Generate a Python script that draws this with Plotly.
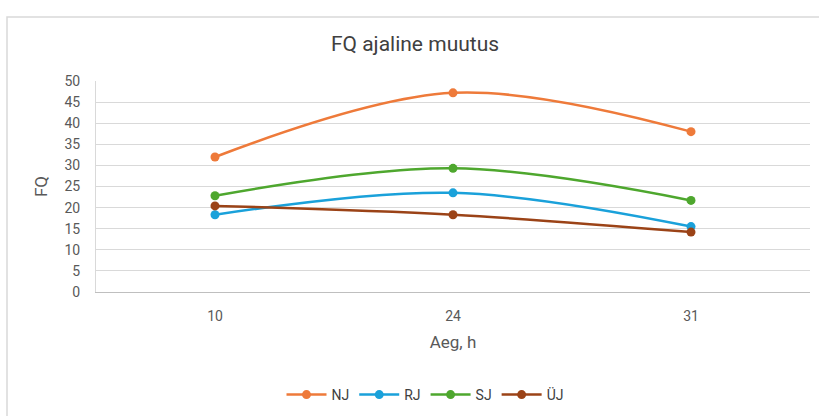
import plotly.graph_objects as go

categories = ["10", "24", "31"]
series_names = ["NJ", "RJ", "SJ", "ÜJ"]
nj = [32.0, 47.2, 38.0]
rj = [18.3, 23.5, 15.5]
sj = [22.8, 29.3, 21.7]
uj = [20.4, 18.3, 14.2]
y_ticks = [0, 5, 10, 15, 20, 25, 30, 35, 40, 45, 50]

values = [nj, rj, sj, uj]
colors = ["#EE7A3A", "#1AA1DA", "#4EA72E", "#9B4317"]

FONT = "Roboto, Liberation Sans, sans-serif"

fig = go.Figure()
for name, vals, col in zip(series_names, values, colors):
    fig.add_trace(go.Scatter(
        x=categories, y=vals, name=name, mode="lines+markers",
        line=dict(color=col, width=2.5, shape="spline", smoothing=1),
        marker=dict(color=col, size=9),
    ))

L, R, T, B = 96, 9, 81, 124
W, H = 819, 416
pw, ph = W - L - R, H - T - B

fig.update_layout(
    width=W, height=H,
    margin=dict(l=L, r=R, t=T, b=B),
    paper_bgcolor="white", plot_bgcolor="white",
    font=dict(family=FONT, color="#595959", size=13),
    title=dict(text="FQ ajaline muutus", x=415 / W, xref="container",
               xanchor="center", y=1 - 44 / H, yanchor="middle",
               font=dict(size=21, color="#404040", family=FONT)),
    showlegend=True,
    legend=dict(orientation="h", x=425 / W, xref="container", xanchor="center",
                y=1 - 395 / H, yref="container", yanchor="middle",
                font=dict(size=14, color="#404040", family=FONT),
                itemwidth=40, tracegroupgap=0),
    xaxis=dict(type="category", range=[-0.5, 2.5], showgrid=False,
               showline=True, linecolor="#bfbfbf", linewidth=1,
               ticks="", ticklabelstandoff=11, tickfont=dict(size=14, color="#595959"),
               title=dict(text="Aeg, h", font=dict(size=17, color="#595959"), standoff=13)),
    yaxis=dict(range=[0, 50], tickvals=y_ticks, showgrid=True, gridcolor="#d9d9d9",
               gridwidth=1, showline=True, linecolor="#d9d9d9", linewidth=1,
               zeroline=False, ticks="", ticklabelstandoff=12,
               tickfont=dict(size=14, color="#595959"),
               title=dict(text="FQ", font=dict(size=17, color="#595959"), standoff=12)),
)

# chart border
fig.add_shape(type="rect", xref="paper", yref="paper",
              x0=(7 - L) / pw, x1=(W + 20 - L) / pw,
              y0=-(B + 20) / ph, y1=1 + (T - 17) / ph,
              line=dict(color="#d9d9d9", width=1.5), fillcolor="rgba(0,0,0,0)", layer="below")

fig.write_html("out.html")
